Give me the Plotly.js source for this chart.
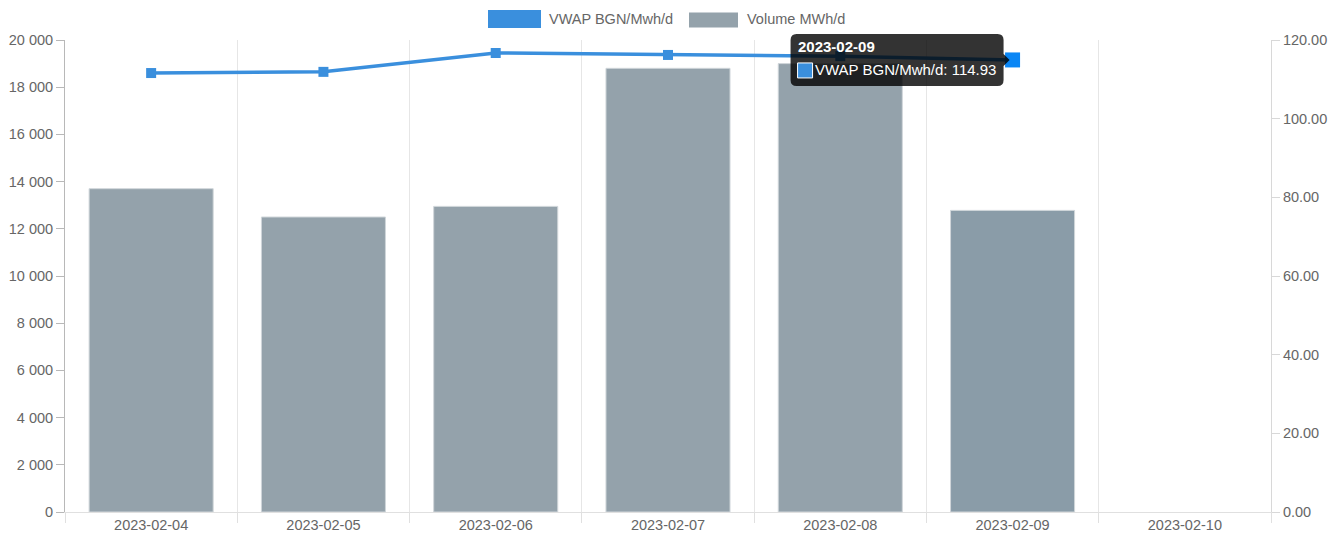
<!DOCTYPE html>
<html>
<head>
<meta charset="utf-8">
<script src="https://cdn.plot.ly/plotly-3.0.1.min.js"></script>
<style>html,body{margin:0;padding:0;background:#fff;}#chart{width:1337px;height:550px;}</style>
</head>
<body>
<div id="chart"></div>
<script>
const categories = ["2023-02-04","2023-02-05","2023-02-06","2023-02-07","2023-02-08","2023-02-09","2023-02-10"];
const volume = [13700, 12500, 12950, 18800, 19000, 12780, null];
const vwap = [111.6, 111.9, 116.7, 116.2, 115.9, 114.93, null];
const seriesNames = ["VWAP BGN/Mwh/d", "Volume MWh/d"];
const hoverIndex = 5;
const vwapRange = [0, 120];

const lineColor = "#3a8fdd";
const barColor = "#94a2ab";
const barHover = "#8a9ca8";

const barColors = categories.map((c, i) => i === hoverIndex ? barHover : barColor);
const markerColors = categories.map((c, i) => i === hoverIndex ? "#0a86f5" : lineColor);
const markerSizes = categories.map((c, i) => i === hoverIndex ? 15 : 10);

const traces = [
  {
    type: "bar", name: seriesNames[1], x: categories, y: volume,
    marker: {color: barColors, line: {color: "#d0d6da", width: 1}},
    width: 0.72, yaxis: "y", hoverinfo: "skip"
  },
  {
    type: "scatter", mode: "lines+markers", name: seriesNames[0], x: categories, y: vwap,
    line: {color: lineColor, width: 3.5},
    marker: {symbol: "square", size: markerSizes, color: markerColors, opacity: 1, line: {width: 0}},
    yaxis: "y2", hoverinfo: "skip", cliponaxis: false
  }
];

const font = {family: "Liberation Sans, Arial, sans-serif", size: 14.5, color: "#666"};
const tipFont = {family: "Liberation Sans, Arial, sans-serif", size: 15, color: "#fff"};

const tipX = categories[hoverIndex], tipY = vwap[hoverIndex];
const tipYPaper = (tipY - vwapRange[0]) / (vwapRange[1] - vwapRange[0]);
const tipBox = "M -216,-26 L -15,-26 Q -9,-26 -9,-20 L -9,-6 L -3,0 L -9,6 L -9,20 Q -9,26 -15,26 " +
               "L -216,26 Q -222,26 -222,20 L -222,-20 Q -222,-26 -216,-26 Z";

const layout = {
  width: 1337, height: 550,
  margin: {l: 65, r: 66, t: 40, b: 38, pad: 0},
  paper_bgcolor: "#fff", plot_bgcolor: "#fff",
  font: font,
  separators: ". ",
  showlegend: false,
  bargap: 0,
  xaxis: {
    type: "category", range: [-0.5, categories.length - 0.5],
    tickson: "boundaries", ticks: "outside", ticklen: 10, tickcolor: "#e0e0e0",
    showgrid: true, gridcolor: "#e6e6e6", gridwidth: 1,
    showline: true, linecolor: "#e0e0e0", linewidth: 1,
    tickfont: font, fixedrange: true
  },
  yaxis: {
    range: [0, 20000], dtick: 2000, tickformat: ",d",
    ticks: "outside", ticklen: 8, tickcolor: "#b8b8b8",
    showline: true, linecolor: "#b8b8b8", linewidth: 1,
    showgrid: false, zeroline: false, tickfont: font
  },
  yaxis2: {
    range: vwapRange, dtick: 20, tickformat: ".2f",
    overlaying: "y", side: "right",
    ticks: "outside", ticklen: 8, tickcolor: "#d8d8d8",
    showline: true, linecolor: "#d8d8d8", linewidth: 1,
    showgrid: false, zeroline: false, tickfont: font
  },
  shapes: [
    {type: "rect", xref: "paper", yref: "paper", x0: (488-65)/1206, x1: (541-65)/1206,
     y0: 1 + (40-28)/472, y1: 1 + (40-10)/472, fillcolor: lineColor, line: {width: 0}},
    {type: "rect", xref: "paper", yref: "paper", x0: (689-65)/1206, x1: (738-65)/1206,
     y0: 1 + (40-27.5)/472, y1: 1 + (40-12.5)/472, fillcolor: barColor, line: {width: 0}},
    {type: "path", layer: "above", xref: "x", yref: "paper", xsizemode: "pixel", ysizemode: "pixel",
     xanchor: tipX, yanchor: tipYPaper, path: tipBox, fillcolor: "rgba(0,0,0,0.8)", line: {width: 0}},
    {type: "rect", layer: "above", xref: "x", yref: "paper", xsizemode: "pixel", ysizemode: "pixel",
     xanchor: tipX, yanchor: tipYPaper, x0: -215, x1: -200, y0: -18, y1: -3,
     fillcolor: lineColor, line: {color: "#ffffff", width: 1}}
  ],
  annotations: [
    {xref: "paper", yref: "paper", x: (547-65)/1206, y: 1 + (40-19)/472, xanchor: "left", yanchor: "middle",
     text: seriesNames[0], showarrow: false, font: font},
    {xref: "paper", yref: "paper", x: (745-65)/1206, y: 1 + (40-19)/472, xanchor: "left", yanchor: "middle",
     text: seriesNames[1], showarrow: false, font: font},
    {xref: "x", yref: "y2", x: tipX, y: tipY, xanchor: "left", yanchor: "middle",
     xshift: -217, yshift: 13, showarrow: false,
     text: "<b>" + tipX + "</b>", font: tipFont},
    {xref: "x", yref: "y2", x: tipX, y: tipY, xanchor: "left", yanchor: "middle",
     xshift: -200, yshift: -10, showarrow: false,
     text: seriesNames[0] + ": " + tipY.toFixed(2), font: tipFont}
  ]
};

Plotly.newPlot("chart", traces, layout, {displayModeBar: false, staticPlot: true});
</script>
</body>
</html>
